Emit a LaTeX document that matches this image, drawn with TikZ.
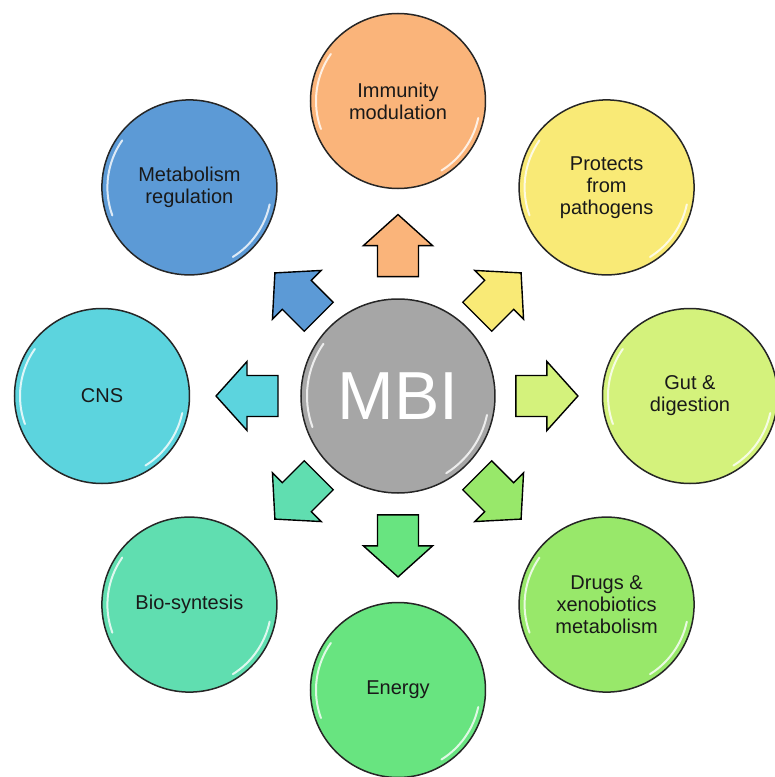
\documentclass[tikz,border=0pt]{standalone}
\usepackage{fontspec}
\setmainfont{Liberation Sans}
\usetikzlibrary{calc}

\definecolor{mbicol}{RGB}{166,166,166}
\definecolor{immcol}{RGB}{250,180,122}
\definecolor{protcol}{RGB}{249,234,118}
\definecolor{gutcol}{RGB}{212,242,124}
\definecolor{drugcol}{RGB}{152,232,106}
\definecolor{enercol}{RGB}{104,228,128}
\definecolor{biocol}{RGB}{96,222,176}
\definecolor{cnscol}{RGB}{92,212,222}
\definecolor{metcol}{RGB}{92,154,214}

\tikzset{
  shine/.style={white, opacity=.8, line width=2pt, line cap=round},
  bubble/.style={circle, draw=black!85, line width=1.5pt, minimum size=175pt, inner sep=0pt,
    align=center, text=black!90, font=\fontsize{20}{22}\selectfont,
    path picture={
      \draw[shine] ([shift={(145:82pt)}]path picture bounding box.center) arc (145:200:82pt);
      \draw[shine] ([shift={(-12:82pt)}]path picture bounding box.center) arc (-12:-58:82pt);
    }},
  blockarrow/.pic={
    \draw[pic actions, line width=1.4pt] (-31,-20.5) -- (0,-20.5) -- (0,-34.5) -- (31,0)
      -- (0,34.5) -- (0,20.5) -- (-31,20.5) -- cycle;
  }
}

\begin{document}
\begin{tikzpicture}[x=1pt, y=1pt]
			%%%%% START %%%%%
			\useasboundingbox (-398, -381) rectangle (377, 396);
			
			\node[bubble, fill=mbicol, minimum size=194pt, text=white, font=\fontsize{68}{68}\selectfont,
			      path picture={
			        \draw[shine] ([shift={(145:91pt)}]path picture bounding box.center) arc (145:200:91pt);
			        \draw[shine] ([shift={(-12:91pt)}]path picture bounding box.center) arc (-12:-58:91pt);
			      }] (mbi) at (0, 0) {MBI};
			
			\node[bubble, fill=immcol] (imm) at (90:295) {Immunity\\modulation};
			\node[bubble, fill=protcol] (prot) at (45:295) {Protects\\from\\pathogens};
			\node[bubble, fill=gutcol] (gut) at (0:292) {Gut \&\\digestion};
			\node[bubble, fill=drugcol] (drug) at (-45:295) {Drugs \&\\xenobiotics\\metabolism};
			\node[bubble, fill=enercol] (ener) at (-90:294) {Energy};
			\node[bubble, fill=biocol] (bio) at (-135:295) {Bio-syntesis};
			\node[bubble, fill=cnscol] (cns) at (180:296) {CNS};
			\node[bubble, fill=metcol] (met) at (135:295) {Metabolism\\regulation};
			
			\pic[rotate=90, fill=immcol] at ($(mbi)!0.51!(imm)$) {blockarrow};
			\pic[rotate=45, fill=protcol] at ($(mbi)!0.485!(prot)$) {blockarrow};
			\pic[rotate=0, fill=gutcol] at ($(mbi)!0.51!(gut)$) {blockarrow};
			\pic[rotate=-45, fill=drugcol] at ($(mbi)!0.485!(drug)$) {blockarrow};
			\pic[rotate=-90, fill=enercol] at ($(mbi)!0.51!(ener)$) {blockarrow};
			\pic[rotate=-135, fill=biocol] at ($(mbi)!0.485!(bio)$) {blockarrow};
			\pic[rotate=180, fill=cnscol] at ($(mbi)!0.51!(cns)$) {blockarrow};
			\pic[rotate=135, fill=metcol] at ($(mbi)!0.485!(met)$) {blockarrow};
			
			%%%%% END %%%%%
\end{tikzpicture}
\end{document}
